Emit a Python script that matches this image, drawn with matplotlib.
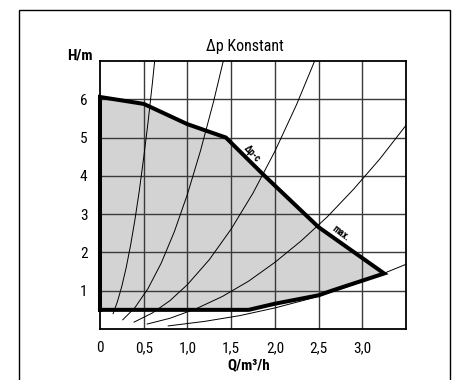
import matplotlib
matplotlib.use("Agg")
import matplotlib.pyplot as plt
from matplotlib.patches import Rectangle
from matplotlib import font_manager

# pick a narrow font if one is installed
installed = {f.name for f in font_manager.fontManager.ttflist}
family = "DejaVu Sans"
for cand in ["Liberation Sans Narrow", "DejaVu Sans Condensed", "Roboto Condensed",
             "Open Sans Condensed", "Noto Sans Condensed"]:
    if cand in installed:
        family = cand
        break
plt.rcParams['font.family'] = [family, 'DejaVu Sans']

# operating range outline (Q in m3/h, H in m)
area_q = [0, 0, 0.5, 1.0, 1.44, 1.86, 2.5, 3.25, 2.65, 2.5, 2.0, 1.7, 0]
area_h = [0.5, 6.06, 5.88, 5.35, 5.0, 4.05, 2.66, 1.45, 1.0, 0.88, 0.66, 0.5, 0.5]

# thin system curves
c1_q = [0.15, 0.2, 0.25, 0.3, 0.35, 0.4, 0.45, 0.5, 0.55, 0.6, 0.625]
c1_h = [0.40, 0.72, 1.12, 1.61, 2.19, 2.86, 3.62, 4.48, 5.41, 6.44, 7.0]
c2_q = [0.26, 0.4, 0.55, 0.7, 0.85, 1.0, 1.15, 1.3, 1.41]
c2_h = [0.24, 0.56, 1.06, 1.72, 2.54, 3.52, 4.66, 5.95, 7.0]
c3_q = [0.39, 0.6, 0.8, 1.0, 1.25, 1.5, 1.75, 2.0, 2.25, 2.455]
c3_h = [0.18, 0.42, 0.74, 1.16, 1.81, 2.61, 3.55, 4.64, 5.87, 7.0]
c4_q = [0.54, 0.8, 1.1, 1.4, 1.7, 2.0, 2.3, 2.6, 2.9, 3.2, 3.5]
c4_h = [0.13, 0.28, 0.53, 0.85, 1.25, 1.74, 2.30, 2.93, 3.65, 4.44, 5.32]
c5_q = [0.78, 1.2, 1.6, 2.0, 2.4, 2.8, 3.2, 3.5]
c5_h = [0.08, 0.20, 0.35, 0.55, 0.79, 1.08, 1.41, 1.69]
curves = [(c1_q, c1_h), (c2_q, c2_h), (c3_q, c3_h), (c4_q, c4_h), (c5_q, c5_h)]

x_ticks = [0, 0.5, 1.0, 1.5, 2.0, 2.5, 3.0]
x_labels = ["0", "0,5", "1,0", "1,5", "2,0", "2,5", "3,0"]
y_ticks = [1, 2, 3, 4, 5, 6]
y_labels = ["1", "2", "3", "4", "5", "6"]

fig = plt.figure(figsize=(4.55, 3.8), dpi=100)
fig.patches.append(Rectangle((19 / 455, -0.1), 431 / 455, 1.1 - 10 / 380,
                             transform=fig.transFigure, fill=False,
                             edgecolor="black", linewidth=1.0))
ax = fig.add_axes([100 / 455, 1 - 329 / 380, 306 / 455, 268 / 380])

ax.set_xlim(0, 3.5)
ax.set_ylim(0, 7)
ax.set_xticks(x_ticks)
ax.set_xticklabels(x_labels, fontsize=11)
ax.set_yticks(y_ticks)
ax.set_yticklabels(y_labels, fontsize=11)
ax.tick_params(length=0, pad=9)
for s in ax.spines.values():
    s.set_linewidth(1.3)

ax.fill(area_q, area_h, color="#d3d3d3", zorder=1)

# grid drawn on top of the grey area
for i in range(1, 7):
    ax.axvline(0.5 * i, color="#3a3a3a", linewidth=1.0, zorder=2)
    ax.axhline(i, color="#3a3a3a", linewidth=1.0, zorder=2)

for q, h in curves:
    ax.plot(q, h, color="black", linewidth=0.7, zorder=3)
ax.plot(area_q, area_h, color="black", linewidth=2.9, zorder=4,
        solid_joinstyle="miter", clip_on=False)

ax.text(1.74, 4.58, "Δp-c", rotation=-47, fontsize=7, fontweight="bold",
        ha="center", va="center", zorder=5)
ax.text(2.75, 2.5, "max.", rotation=-37, fontsize=7, fontweight="bold",
        ha="center", va="center", zorder=5)

fig.text(245 / 455, 1 - 46 / 380, "Δp Konstant", fontsize=11.5,
         ha="center", va="center")
fig.text(80 / 455, 1 - 55 / 380, "H/m", fontsize=11, fontweight="bold",
         ha="center", va="center")
fig.text(249 / 455, 1 - 365 / 380, "Q/m³/h", fontsize=11, fontweight="bold",
         ha="center", va="center")

fig.savefig("out.png", dpi=100)
